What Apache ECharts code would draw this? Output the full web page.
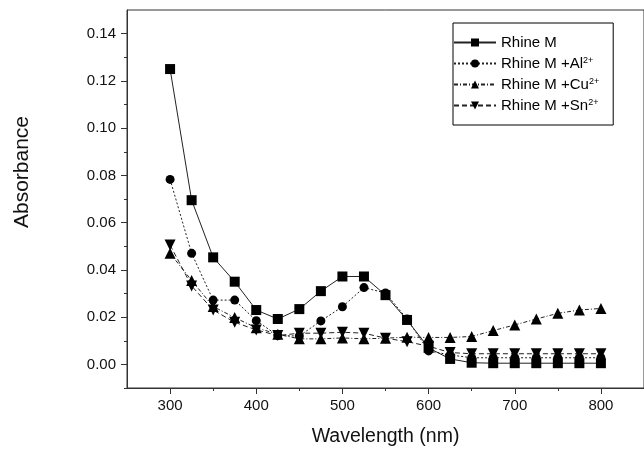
<!DOCTYPE html>
<html>
<head>
<meta charset="utf-8">
<script src="https://cdn.jsdelivr.net/npm/echarts@6/dist/echarts.min.js"></script>
<style>
  html, body { margin: 0; padding: 0; background: #fff; }
  #chart { width: 644px; height: 452px; }
</style>
</head>
<body>
<div id="chart"></div>
<script>
// wavelength (nm)
const wavelength = [300, 325, 350, 375, 400, 425, 450, 475, 500, 525, 550, 575, 600, 625, 650, 675, 700, 725, 750, 775, 800];

const rhineM = [0.125, 0.0695, 0.0453, 0.035, 0.023, 0.0192, 0.0234, 0.031, 0.0372, 0.0372, 0.0293, 0.0188, 0.007, 0.0023, 0.0007, 0.0005, 0.0005, 0.0005, 0.0005, 0.0005, 0.0005];
const rhineAl = [0.0783, 0.047, 0.0272, 0.0272, 0.0185, 0.0122, 0.012, 0.0184, 0.0244, 0.0325, 0.0302, 0.0192, 0.0057, 0.004, 0.0028, 0.0028, 0.0028, 0.0028, 0.0028, 0.0028, 0.0028];
const rhineCu = [0.047, 0.0355, 0.0245, 0.0198, 0.0155, 0.0128, 0.0108, 0.0108, 0.0112, 0.0108, 0.0111, 0.0115, 0.0114, 0.0114, 0.0118, 0.0143, 0.0167, 0.0192, 0.0216, 0.023, 0.0237];
const rhineSn = [0.0505, 0.0332, 0.023, 0.0178, 0.0146, 0.0122, 0.0132, 0.0132, 0.0136, 0.0132, 0.0111, 0.0096, 0.0077, 0.005, 0.0045, 0.0045, 0.0045, 0.0045, 0.0045, 0.0045, 0.0045];

const xLabels = [300, 400, 500, 600, 700, 800];
const xMinor = [350, 450, 550, 650, 750];
const yLabels = [0, 0.02, 0.04, 0.06, 0.08, 0.1, 0.12, 0.14];
const yMinor = [-0.01, 0.01, 0.03, 0.05, 0.07, 0.09, 0.11, 0.13];

const font = 'Liberation Sans, Arial, sans-serif';
const ink = '#222';

function pairs(ys) {
  return wavelength.map((x, i) => [x, ys[i]]);
}

function makeSeries(name, ys, symbol, size, dash, rotate) {
  return {
    name: name,
    type: 'line',
    xAxisIndex: 0,
    yAxisIndex: 0,
    data: pairs(ys),
    symbol: symbol,
    symbolSize: size,
    symbolRotate: rotate || 0,
    showSymbol: true,
    itemStyle: { color: '#000', borderWidth: 0 },
    lineStyle: { color: ink, width: 1, type: dash },
    emphasis: { disabled: true },
    animation: false
  };
}

const chart = echarts.init(document.getElementById('chart'));

const option = {
  animation: false,
  backgroundColor: '#fff',
  textStyle: { fontFamily: font },
  grid: {
    left: 127, right: -1, top: 10, bottom: 59,
    show: true, borderColor: '#333', borderWidth: 1
  },
  legend: {
    orient: 'vertical',
    left: 453,
    top: 23,
    width: 179,
    padding: [12, 14, 12, 0],
    itemGap: 6,
    itemWidth: 42,
    itemHeight: 10,
    borderColor: '#000',
    borderWidth: 1,
    backgroundColor: '#fff',
    align: 'left',
    formatter: name => name.replace(/(\d\+)$/, '{sup|$1}'),
    textStyle: {
      fontFamily: font,
      fontSize: 15,
      color: '#000',
      lineHeight: 15,
      rich: {
        sup: { fontSize: 9, fontFamily: font, color: '#000', verticalAlign: 'top', lineHeight: 9, padding: [0, 0, 6, 0] }
      }
    },
    data: ['Rhine M', 'Rhine M +Al2+', 'Rhine M +Cu2+', 'Rhine M +Sn2+']
  },
  xAxis: [
    {
      type: 'value',
      min: 250,
      max: 850,
      axisLine: { show: true, onZero: false, lineStyle: { color: '#333', width: 1 } },
      axisTick: { show: true, length: 6, customValues: xLabels, lineStyle: { color: '#333' } },
      axisLabel: { customValues: xLabels, fontSize: 15, color: '#111', margin: 10, fontFamily: font },
      splitLine: { show: false },
      name: 'Wavelength (nm)',
      nameLocation: 'middle',
      nameGap: 39,
      nameTextStyle: { fontSize: 19.5, color: '#111', fontFamily: font }
    },
    {
      type: 'value',
      position: 'bottom',
      min: 250,
      max: 850,
      axisLine: { show: false, onZero: false },
      axisTick: { show: true, length: 3, customValues: xMinor, lineStyle: { color: '#333' } },
      axisLabel: { show: false },
      splitLine: { show: false }
    }
  ],
  yAxis: [
    {
      type: 'value',
      min: -0.01,
      max: 0.15,
      axisLine: { show: true, onZero: false, lineStyle: { color: '#333', width: 1 } },
      axisTick: { show: true, length: 6, customValues: yLabels, lineStyle: { color: '#333' } },
      axisLabel: {
        customValues: yLabels,
        fontSize: 15,
        color: '#111',
        margin: 11,
        fontFamily: font,
        formatter: v => v.toFixed(2)
      },
      splitLine: { show: false }
    },
    {
      type: 'value',
      position: 'left',
      min: -0.01,
      max: 0.15,
      axisLine: { show: false, onZero: false },
      axisTick: { show: true, length: 3, customValues: yMinor, lineStyle: { color: '#333' } },
      axisLabel: { show: false },
      splitLine: { show: false }
    }
  ],
  graphic: [
    {
      type: 'text',
      x: 22,
      y: 172,
      rotation: Math.PI / 2,
      style: {
        text: 'Absorbance',
        fontSize: 21,
        fontFamily: font,
        fill: '#111',
        align: 'center',
        verticalAlign: 'middle'
      }
    }
  ],
  series: [
    makeSeries('Rhine M', rhineM, 'rect', 10, 'solid'),
    makeSeries('Rhine M +Al2+', rhineAl, 'circle', 9, [2, 2]),
    makeSeries('Rhine M +Cu2+', rhineCu, 'triangle', 11, [4, 2, 1, 2]),
    makeSeries('Rhine M +Sn2+', rhineSn, 'triangle', 11, [5, 3], 180)
  ]
};

chart.setOption(option);
</script>
</body>
</html>
